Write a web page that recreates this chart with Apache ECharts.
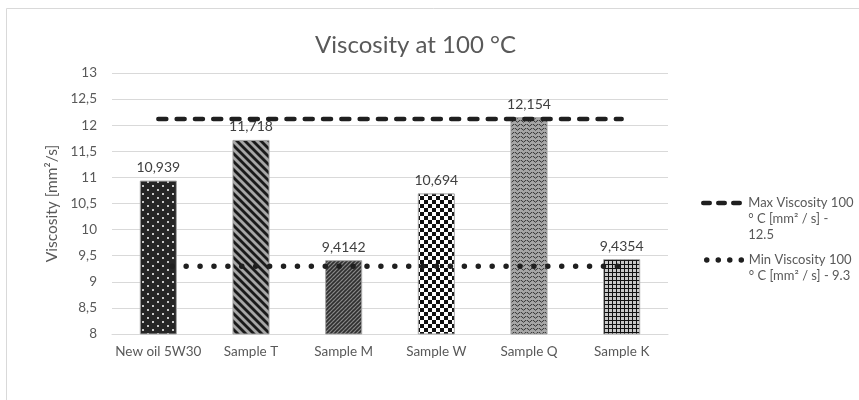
<!DOCTYPE html>
<html>
<head>
<meta charset="utf-8">
<script src="https://cdn.jsdelivr.net/npm/echarts@6/dist/echarts.min.js"></script>
<style>html,body{margin:0;padding:0;background:#fff}#c{width:859px;height:400px}</style>
</head>
<body>
<div id="c"></div>
<script>
const categories = ['New oil 5W30', 'Sample T', 'Sample M', 'Sample W', 'Sample Q', 'Sample K'];
const viscosity = [10.939, 11.718, 9.4142, 10.694, 12.154, 9.4354];
const maxLimit = [12.12, 12.12, 12.12, 12.12, 12.12, 12.12];
const minLimit = [9.3, 9.3, 9.3, 9.3, 9.3, 9.3];
const yTicks = { min: 8, max: 13, step: 0.5 };
const titleText = 'Viscosity at 100 °C';
const yName = 'Viscosity [mm²/s]';
const maxName = 'Max Viscosity 100 ° C [mm² / s] - 12.5';
const minName = 'Min Viscosity 100 ° C [mm² / s] - 9.3';

const FONT = 'Lato';
const TXT = '#595959';

function tile(w, h, draw) {
  const c = document.createElement('canvas');
  c.width = w; c.height = h;
  const g = c.getContext('2d');
  draw(g, w, h);
  return { image: c, repeat: 'repeat' };
}
const patterns = [
  tile(10, 8, (g) => { g.fillStyle = '#262626'; g.fillRect(0, 0, 10, 8); g.fillStyle = '#c8c8c8'; g.fillRect(2, 1, 2, 2); g.fillRect(7, 5, 2, 2); }),
  tile(8, 8, (g) => { g.fillStyle = '#a6a6a6'; g.fillRect(0, 0, 8, 8); g.strokeStyle = '#1a1a1a'; g.lineWidth = 2.8;
    for (let k = -8; k <= 8; k += 8) { g.beginPath(); g.moveTo(k - 2, -2); g.lineTo(k + 10, 10); g.stroke(); } }),
  tile(4, 4, (g) => { g.fillStyle = '#8c8c8c'; g.fillRect(0, 0, 4, 4); g.strokeStyle = '#2e2e2e'; g.lineWidth = 1.6;
    for (let k = -4; k <= 8; k += 4) { g.beginPath(); g.moveTo(k - 1, 5); g.lineTo(k + 5, -1); g.stroke(); } }),
  tile(8, 8, (g) => { g.fillStyle = '#ffffff'; g.fillRect(0, 0, 8, 8); g.fillStyle = '#111111'; g.fillRect(0, 0, 4, 4); g.fillRect(4, 4, 4, 4); }),
  tile(6, 4, (g) => { g.fillStyle = '#a6a6a6'; g.fillRect(0, 0, 6, 4); g.strokeStyle = '#333333'; g.lineWidth = 1;
    g.beginPath(); g.moveTo(0, 1); g.quadraticCurveTo(1.5, 3.5, 3, 1); g.quadraticCurveTo(4.5, -1.5, 6, 1); g.stroke(); }),
  tile(4, 4, (g) => { g.fillStyle = '#c8c8c8'; g.fillRect(0, 0, 4, 4); g.fillStyle = '#111111'; g.fillRect(0, 0, 4, 1); g.fillRect(0, 0, 1, 4); })
];

const fmt = (v) => String(v).replace('.', ',');

const chart = echarts.init(document.getElementById('c'), null, { renderer: 'canvas' });
chart.setOption({
  animation: false,
  backgroundColor: '#ffffff',
  textStyle: { fontFamily: FONT },
  title: {
    text: titleText, left: 310, top: 28,
    textStyle: { fontFamily: FONT, fontSize: 24, fontWeight: 'normal', color: TXT }
  },
  graphic: [{
    type: 'rect', shape: { x: 6.5, y: 8.5, width: 900, height: 500 },
    style: { fill: 'none', stroke: '#d9d9d9', lineWidth: 1 }, silent: true, z: -1
  }],
  legend: [{
    data: [maxName], orient: 'vertical', left: 696, top: 158,
    itemWidth: 40, itemHeight: 14, itemGap: 3,
    formatter: () => '\n\nMax Viscosity 100\n° C [mm² / s] -\n12.5',
    textStyle: { fontFamily: FONT, fontSize: 13, color: TXT, lineHeight: 16 },
    lineStyle: { width: 4.5, type: [6.5, 8.5], cap: 'round' },
    itemStyle: { opacity: 0 }
  }, {
    data: [minName], orient: 'vertical', left: 696, top: 231,
    itemWidth: 40, itemHeight: 14, itemGap: 3,
    formatter: () => '\nMin Viscosity 100\n° C [mm² / s] - 9.3',
    textStyle: { fontFamily: FONT, fontSize: 13, color: TXT, lineHeight: 16 },
    lineStyle: { width: 5.5, type: [0.01, 11.5], cap: 'round', dashOffset: -3 },
    itemStyle: { opacity: 0 }
  }],
  grid: { left: 112, right: 191, top: 73, bottom: 66, containLabel: false },
  xAxis: {
    type: 'category', data: categories,
    axisLine: { lineStyle: { color: '#d9d9d9', width: 1 } },
    axisTick: { show: false },
    axisLabel: { color: TXT, fontSize: 13.5, fontFamily: FONT, margin: 11, interval: 0 }
  },
  yAxis: {
    type: 'value', min: yTicks.min, max: yTicks.max, interval: yTicks.step,
    name: yName, nameLocation: 'middle', nameGap: 37, nameRotate: 90,
    nameTextStyle: { color: TXT, fontSize: 15.5, fontFamily: FONT },
    axisLine: { show: false }, axisTick: { show: false },
    splitLine: { lineStyle: { color: '#d9d9d9', width: 1 } },
    axisLabel: { color: TXT, fontSize: 13.5, fontFamily: FONT, margin: 15, formatter: fmt }
  },
  series: [{
    type: 'bar', name: 'Viscosity', barWidth: '40%', z: 2,
    data: viscosity.map((v, i) => ({ value: v, itemStyle: { color: patterns[i] } })),
    itemStyle: { borderColor: '#a6a6a6', borderWidth: 1 },
    label: { show: true, position: 'top', distance: 6, color: '#404040', fontSize: 14, fontFamily: FONT, formatter: (p) => fmt(p.value) }
  }, {
    type: 'line', name: maxName, data: maxLimit, z: 5, symbol: 'none',
    lineStyle: { color: '#1f1f1f', width: 4.5, type: [8, 10.3], cap: 'round' },
    itemStyle: { color: '#1f1f1f' }
  }, {
    type: 'line', name: minName, data: minLimit, z: 5, symbol: 'none',
    lineStyle: { color: '#1f1f1f', width: 5.5, type: [0.01, 13.9], cap: 'round' },
    itemStyle: { color: '#1f1f1f' }
  }]
});
</script>
</body>
</html>
